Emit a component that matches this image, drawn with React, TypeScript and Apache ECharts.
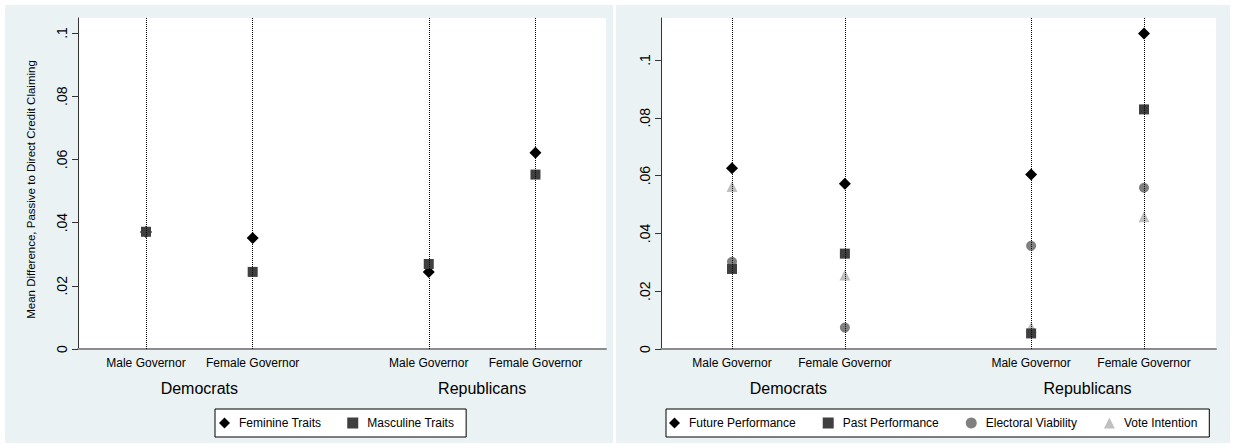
import React, { useEffect, useRef } from "react";
import * as echarts from "echarts";

// ---- Data ----
const groups = ["Democrats", "Republicans"];
const governors = ["Male Governor", "Female Governor"];

const leftNames = ["Feminine Traits", "Masculine Traits"];
const feminineTraits = [0.037, 0.0351, 0.0244, 0.0621];
const masculineTraits = [0.0371, 0.0244, 0.0269, 0.0552];

const rightNames = ["Future Performance", "Past Performance", "Electoral Viability", "Vote Intention"];
const futurePerformance = [0.0625, 0.0572, 0.0604, 0.1092];
const pastPerformance = [0.0277, 0.033, 0.0054, 0.0829];
const electoralViability = [0.0302, 0.0074, 0.0357, 0.0558];
const voteIntention = [0.0562, 0.0256, 0.0075, 0.0458];

const yTicks = [0, 0.02, 0.04, 0.06, 0.08, 0.1];
const yTitle = "Mean Difference, Passive to Direct Credit Claiming";

// ---- Layout helpers ----
const groupOffset = 2.65;
const positions: number[] = [];
const posLabels: string[] = [];
groups.forEach((_, gi) => governors.forEach((gov, si) => { positions.push(gi * groupOffset + si); posLabels.push(gov); }));
const groupCenters = groups.map((_, gi) => gi * groupOffset + 0.5);

const FONT = "'Liberation Sans', Arial, Helvetica, sans-serif";
const fmtY = (v: number) => (Math.abs(v) < 1e-9 ? "0" : String(+v.toFixed(2)).replace(/^0\./, "."));
const lookup = (vals: number[], names: string[]) => (v: number) => {
  const i = vals.findIndex((p) => Math.abs(p - v) < 1e-6);
  return i >= 0 ? names[i] : "";
};

const styles: Record<string, { symbol: string; size: number; color: string }> = {
  "Feminine Traits": { symbol: "diamond", size: 12, color: "#000000" },
  "Masculine Traits": { symbol: "rect", size: 10, color: "#3f3f3f" },
  "Future Performance": { symbol: "diamond", size: 12, color: "#000000" },
  "Past Performance": { symbol: "rect", size: 10, color: "#3f3f3f" },
  "Electoral Viability": { symbol: "circle", size: 10, color: "#808080" },
  "Vote Intention": { symbol: "triangle", size: 11, color: "#c0c0c0" },
};

function makeSeries(name: string, values: number[], axisIdx: number) {
  const s = styles[name];
  return {
    name,
    type: "scatter",
    xAxisIndex: axisIdx * 2,
    yAxisIndex: axisIdx,
    symbol: s.symbol,
    symbolSize: s.size,
    itemStyle: { color: s.color, opacity: 1 },
    z: 3,
    data: values.map((v, i) => [positions[i], v]),
  };
}

function guideSeries(axisIdx: number) {
  return {
    name: "guides" + axisIdx,
    type: "scatter",
    xAxisIndex: axisIdx * 2,
    yAxisIndex: axisIdx,
    data: [],
    z: 1,
    silent: true,
    markLine: {
      silent: true,
      symbol: ["none", "none"],
      label: { show: false },
      lineStyle: { type: [1, 1], color: "#000", width: 1 },
      data: positions.map((p) => ({ xAxis: p })),
    },
  };
}

function xAxes(gridIndex: number, min: number, max: number) {
  return [
    {
      type: "value",
      gridIndex,
      min,
      max,
      position: "bottom",
      axisLine: { show: true, onZero: false, lineStyle: { color: "#8c8c8c", width: 2 } },
      axisTick: { show: false },
      splitLine: { show: false },
      axisLabel: {
        customValues: positions,
        formatter: lookup(positions, posLabels),
        fontSize: 12,
        color: "#000",
        margin: 8,
        fontFamily: FONT,
      },
    },
    {
      type: "value",
      gridIndex,
      min,
      max,
      position: "bottom",
      axisLine: { show: false, onZero: false },
      axisTick: { show: false },
      splitLine: { show: false },
      axisLabel: {
        customValues: groupCenters,
        formatter: lookup(groupCenters, groups),
        fontSize: 16,
        color: "#000",
        margin: 31,
        fontFamily: FONT,
      },
    },
  ];
}

function yAxis(gridIndex: number, max: number, withName: boolean) {
  return {
    type: "value",
    gridIndex,
    min: 0,
    max,
    position: "left",
    name: withName ? yTitle : "",
    nameLocation: "middle",
    nameGap: 41,
    nameTextStyle: { fontSize: 11.5, color: "#000", fontFamily: FONT, padding: [0, 12, 0, 0] },
    axisLine: { show: true, onZero: false, lineStyle: { color: "#333", width: 1 } },
    axisTick: { show: true, customValues: yTicks, length: 6, lineStyle: { color: "#333" } },
    splitLine: { show: false },
    axisLabel: {
      customValues: yTicks,
      formatter: fmtY,
      rotate: 90,
      fontSize: 14,
      color: "#000",
      margin: 9,
      fontFamily: FONT,
    },
  };
}

function legend(data: string[], left: number, padding: number[], itemGap: number) {
  return {
    data,
    left,
    top: 409,
    orient: "horizontal",
    backgroundColor: "#fff",
    borderColor: "#000",
    borderWidth: 1,
    borderRadius: 0,
    padding,
    itemGap,
    itemWidth: 11,
    itemHeight: 11,
    selectedMode: false,
    textStyle: { fontSize: 12, color: "#000", fontFamily: FONT, padding: [0, 0, 0, 4] },
  };
}

const option = {
  animation: false,
  backgroundColor: "#ffffff",
  textStyle: { fontFamily: FONT },
  graphic: [
    { type: "rect", z: -10, silent: true, shape: { x: 5, y: 5, width: 608, height: 438 }, style: { fill: "#eaf2f3" } },
    { type: "rect", z: -10, silent: true, shape: { x: 616, y: 5, width: 614, height: 438 }, style: { fill: "#eaf2f3" } },
  ],
  grid: [
    { left: 78, top: 18, width: 528, height: 331, show: true, backgroundColor: "#fff", borderWidth: 0 },
    { left: 661, top: 18, width: 555, height: 331, show: true, backgroundColor: "#fff", borderWidth: 0 },
  ],
  xAxis: [...xAxes(0, -0.637, 4.311), ...xAxes(1, -0.629, 4.288)],
  yAxis: [yAxis(0, 0.10475, true), yAxis(1, 0.11453, false)],
  legend: [
    legend(leftNames, 215, [8, 12, 8, 4], 26),
    legend(rightNames, 666, [8, 12, 8, 3], 27),
  ],
  series: [
    guideSeries(0),
    guideSeries(1),
    makeSeries("Feminine Traits", feminineTraits, 0),
    makeSeries("Masculine Traits", masculineTraits, 0),
    makeSeries("Vote Intention", voteIntention, 1),
    makeSeries("Electoral Viability", electoralViability, 1),
    makeSeries("Past Performance", pastPerformance, 1),
    makeSeries("Future Performance", futurePerformance, 1),
  ],
};

export default function App() {
  const ref = useRef<HTMLDivElement>(null);
  useEffect(() => {
    document.body.style.margin = "0";
    const chart = echarts.init(ref.current!, null, { renderer: "svg" });
    chart.setOption(option as any);
    return () => chart.dispose();
  }, []);
  return <div ref={ref} style={{ width: 1235, height: 448 }} />;
}
